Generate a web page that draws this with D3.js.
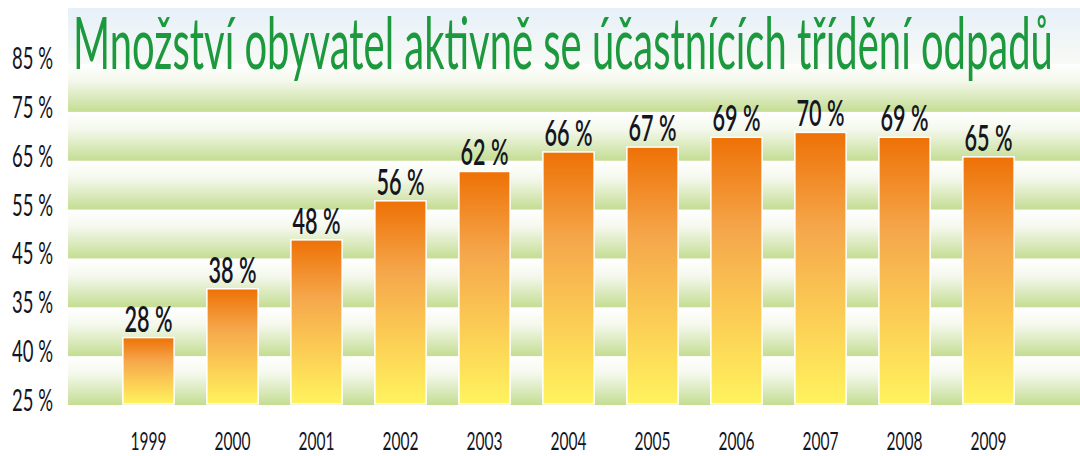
<!DOCTYPE html>
<html>
<head>
<meta charset="utf-8">
<script src="https://cdn.jsdelivr.net/npm/d3@7"></script>
<style>
  body { margin: 0; background: #fff; }
  svg { display: block; }
</style>
</head>
<body>
<script>
// data
var years = ["1999","2000","2001","2002","2003","2004","2005","2006","2007","2008","2009"];
var values = [28, 38, 48, 56, 62, 66, 67, 69, 70, 69, 65];
var tickValues = [14, 24, 34, 44, 54, 64, 74, 84];
var tickLabels = ["25 %", "40 %", "35 %", "45 %", "55 %", "65 %", "75 %", "85 %"];
var title = "Množství obyvatel aktivně se účastnících třídění odpadů";

var W = 1080, H = 456;
var bgLeft = 68;

var svg = d3.select("body").append("svg")
    .attr("width", W)
    .attr("height", H);

var y = d3.scaleLinear().domain([14, 84]).range([406, 64]);
var x = d3.scaleBand().domain(years)
    .range([106.5, 1030.5])
    .paddingInner(0.39)
    .paddingOuter(0.195);

// squeeze a text horizontally to a given width (condensed look)
function squeeze(sel, width, anchor) {
  sel.each(function() {
    var t = d3.select(this);
    var px = +t.attr("data-x"), py = +t.attr("data-y");
    var w = this.getComputedTextLength();
    var s = width / w;
    var dx = anchor === "middle" ? -width / 2 : 0;
    t.attr("x", 0).attr("y", 0)
     .attr("transform", "translate(" + (px + dx) + "," + py + ") scale(" + s + ",1)");
  });
}

// gradients
var defs = svg.append("defs");
var sky = defs.append("linearGradient").attr("id", "sky")
    .attr("x1", 0).attr("y1", 0).attr("x2", 0).attr("y2", 1);
sky.append("stop").attr("offset", 0).attr("stop-color", "#e7f0f9");
sky.append("stop").attr("offset", 1).attr("stop-color", "#f7faf5");

var band = defs.append("linearGradient").attr("id", "band")
    .attr("x1", 0).attr("y1", 0).attr("x2", 0).attr("y2", 1);
band.append("stop").attr("offset", 0).attr("stop-color", "#ffffff");
band.append("stop").attr("offset", 0.35).attr("stop-color", "#f4f8ec");
band.append("stop").attr("offset", 1).attr("stop-color", "#c4dd92");

var barGrad = defs.append("linearGradient").attr("id", "bar")
    .attr("x1", 0).attr("y1", 0).attr("x2", 0).attr("y2", 1);
barGrad.append("stop").attr("offset", 0).attr("stop-color", "#ee7106");
barGrad.append("stop").attr("offset", 0.35).attr("stop-color", "#f5a74b");
barGrad.append("stop").attr("offset", 0.72).attr("stop-color", "#fcd256");
barGrad.append("stop").attr("offset", 1).attr("stop-color", "#fff35e");

// background
svg.append("rect")
    .attr("x", bgLeft).attr("y", 8)
    .attr("width", W - bgLeft).attr("height", y(84) - 8)
    .attr("fill", "url(#sky)");

svg.selectAll("rect.band")
    .data(tickValues.slice(0, -1))
    .enter()
    .append("rect")
    .attr("class", "band")
    .attr("x", bgLeft)
    .attr("y", function(d) { return y(d + 10); })
    .attr("width", W - bgLeft)
    .attr("height", function(d) { return y(d) - y(d + 10) - 1; })
    .attr("fill", "url(#band)");

// title
svg.append("text")
    .attr("data-x", 73)
    .attr("data-y", 69)
    .style("font-family", "Lato")
    .style("font-size", "72px")
    .style("fill", "#1c993d")
    .text(title)
    .call(squeeze, 980, "start");

// y labels
svg.selectAll("text.ylab")
    .data(tickValues)
    .enter()
    .append("text")
    .attr("class", "ylab")
    .attr("data-x", 12)
    .attr("data-y", function(d) { return y(d) + 5; })
    .style("font-family", "Lato")
    .style("font-size", "30px")
    .style("fill", "#15151f")
    .text(function(d, i) { return tickLabels[i]; })
    .call(squeeze, 41, "start");

// bars
svg.selectAll("rect.bar")
    .data(values)
    .enter()
    .append("rect")
    .attr("class", "bar")
    .attr("x", function(d, i) { return x(years[i]); })
    .attr("y", function(d) { return y(d); })
    .attr("width", x.bandwidth())
    .attr("height", function(d) { return y(14) - 2 - y(d); })
    .attr("fill", "url(#bar)")
    .attr("stroke", "#ffffff")
    .attr("stroke-width", 1.5);

// value labels
svg.selectAll("text.val")
    .data(values)
    .enter()
    .append("text")
    .attr("class", "val")
    .attr("data-x", function(d, i) { return x(years[i]) + x.bandwidth() / 2; })
    .attr("data-y", function(d) { return y(d) - 6; })
    .style("font-family", "Lato")
    .style("font-size", "36px")
    .style("font-weight", "600")
    .style("fill", "#15151f")
    .text(function(d) { return d + " %"; })
    .call(squeeze, 48, "middle");

// year labels
svg.selectAll("text.year")
    .data(years)
    .enter()
    .append("text")
    .attr("class", "year")
    .attr("data-x", function(d) { return x(d) + x.bandwidth() / 2; })
    .attr("data-y", 450)
    .style("font-family", "Lato")
    .style("font-size", "25px")
    .style("fill", "#15151f")
    .text(function(d) { return d; })
    .call(squeeze, 36, "middle");
</script>
</body>
</html>
